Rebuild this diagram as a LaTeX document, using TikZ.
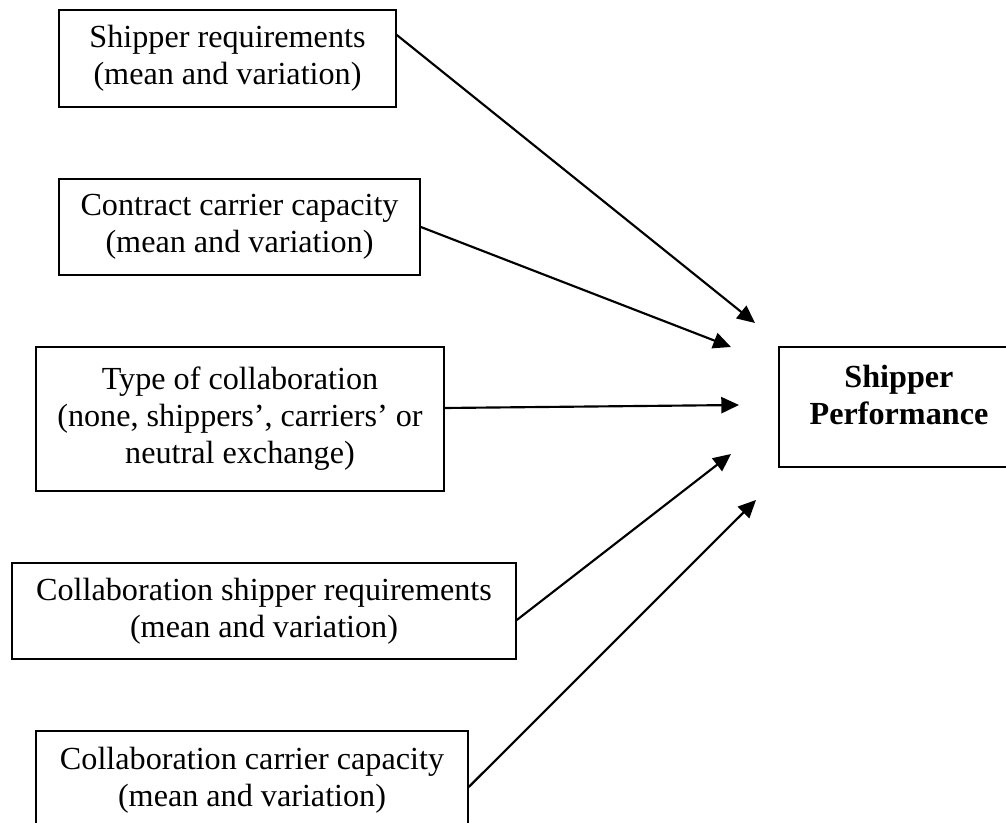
\documentclass[tikz,border=0pt]{standalone}
\usepackage{fontspec}
\setmainfont{Liberation Serif}
\usetikzlibrary{arrows.meta, calc}

\begin{document}
\begin{tikzpicture}[
            x=0.373pt, y=-0.373pt,
            box/.style={rectangle, draw=black, line width=0.6pt, fill=white, inner sep=0pt, align=center, font=\fontsize{12}{13.8}\selectfont},
            arrow/.style={-{Triangle[length=6.6pt, width=6pt]}, line width=0.8pt}
        ]
            \clip (0,0) rectangle (1006,823);

            % Input factors (left column)
            \node[box, minimum width=125.7pt, minimum height=36.2pt] (shipreq) at (227.5,58.5) {Shipper requirements\\(mean and variation)};
            \node[box, minimum width=134.7pt, minimum height=35.8pt] (carcap) at (239.5,227) {Contract carrier capacity\\(mean and variation)};
            \node[box, minimum width=152.2pt, minimum height=53.7pt] (collab) at (240,419) {Type of collaboration\\(none, shippers’, carriers’ or\\neutral exchange)};
            \node[box, minimum width=188pt, minimum height=35.8pt] (colreq) at (264,611) {Collaboration shipper requirements\\(mean and variation)};
            \node[box, minimum width=161.1pt, minimum height=36.6pt] (colcap) at (252,780) {Collaboration carrier capacity\\(mean and variation)};

            % Outcome
            \node[box, minimum width=89.5pt, minimum height=44.8pt, font=\fontsize{12}{13.8}\selectfont\bfseries] (perf) at (899,407) {Shipper\\Performance\\[-9pt]\strut};

            % Arrow tips (stop short of the outcome box)
            \coordinate (tip1) at (755,323);
            \coordinate (tip2) at (731,347);
            \coordinate (tip3) at (739,405);
            \coordinate (tip4) at (731,454);
            \coordinate (tip5) at (756,500);

            % Arrows
            \draw[arrow] ($(shipreq.east)+(0,-23.5)$) -- (tip1);
            \draw[arrow] (carcap.east) -- (tip2);
            \draw[arrow] ($(collab.east)+(0,-11)$) -- (tip3);
            \draw[arrow] ($(colreq.east)+(0,9)$) -- (tip4);
            \draw[arrow] ($(colcap.east)+(0,7)$) -- (tip5);
        \end{tikzpicture}
\end{document}
